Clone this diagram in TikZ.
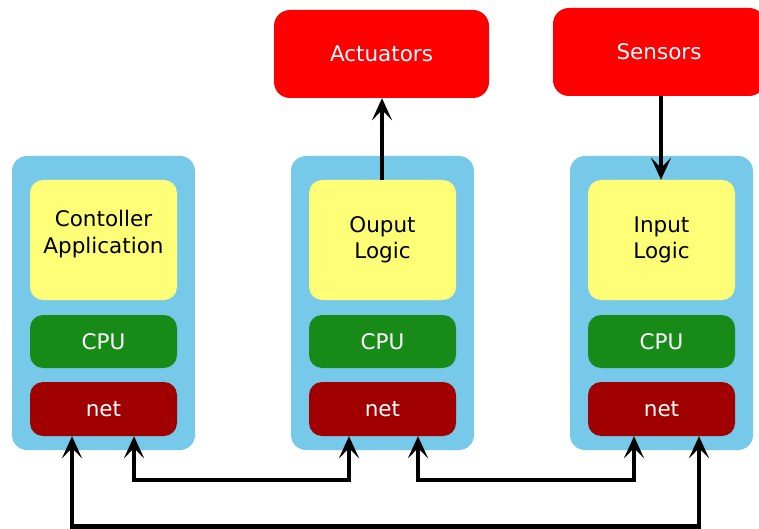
\documentclass[tikz,border=0pt]{standalone}
\usepackage{fontspec}
\setmainfont{DejaVu Sans}
\usetikzlibrary{arrows.meta}
\definecolor{cblue}{HTML}{77C9EA}
\definecolor{cyellow}{HTML}{FFFF77}
\definecolor{cgreen}{HTML}{188A18}
\definecolor{cdark}{HTML}{A00000}
\definecolor{cred}{HTML}{FF0000}
\tikzset{
  box/.style={inner sep=0pt, align=center, font=\fontsize{21.5}{26.5}\selectfont},
  hostbox/.style={box, fill=cblue, rounded corners=15pt, minimum width=183pt, minimum height=294pt},
  appbox/.style={box, fill=cyellow, rounded corners=13pt, minimum width=147pt, minimum height=120pt, text=black},
  cpubox/.style={box, fill=cgreen, rounded corners=13pt, minimum width=147pt, minimum height=53pt, text=white},
  netbox/.style={box, fill=cdark, rounded corners=13pt, minimum width=147pt, minimum height=54pt, text=white},
  devbox/.style={box, fill=cred, rounded corners=16pt, minimum height=88pt, text=white},
  link/.style={line width=4.5pt, -{Stealth[length=22pt,width=20pt,inset=10pt]}},
  blink/.style={line width=4.5pt, {Stealth[length=22pt,width=20pt,inset=10pt]}-{Stealth[length=22pt,width=20pt,inset=10pt]}}
}
\begin{document}
\begin{tikzpicture}[x=1pt,y=-1pt]
\useasboundingbox (0,0) rectangle (759,529);
% hosts
\node[hostbox] (h1) at (103.5,303) {};
\node[hostbox] (h2) at (382.5,303) {};
\node[hostbox] (h3) at (661.5,303) {};
\node[appbox] (a1) at (103.5,240) {};
\node[box] (t1) at ([yshift=6pt]a1.center) {Contoller\\Application};
\node[appbox] (a2) at (382.5,240) {Ouput\\Logic};
\node[appbox] (a3) at (661.5,240) {Input\\Logic};
\node[cpubox] (c1) at (103.5,341.5) {CPU};
\node[cpubox] (c2) at (382.5,341.5) {CPU};
\node[cpubox] (c3) at (661.5,341.5) {CPU};
\node[netbox] (n1) at (103.5,409) {net};
\node[netbox] (n2) at (382.5,409) {net};
\node[netbox] (n3) at (661.5,409) {net};
\node[devbox, minimum width=215pt] (act) at (381.5,54) {Actuators};
\node[devbox, minimum width=212pt] (sen) at (659,52) {Sensors};
% vertical links
\draw[link] (382,0 |- a2.north) -- (382,0 |- act.south);
\draw[link] (661,0 |- sen.south) -- (661,0 |- a3.north);
% bus links
\coordinate (b1) at (72,526.5);
\coordinate (b2) at (699,526.5);
\coordinate (m1) at (134,480);
\coordinate (m2) at (349,480);
\coordinate (m3) at (418,480);
\coordinate (m4) at (634,480);
\draw[blink] (72,0 |- n1.south) -- (b1) -- (b2) -- (699,0 |- n3.south);
\draw[blink] (134,0 |- n1.south) -- (m1) -- (m2) -- (349,0 |- n2.south);
\draw[blink] (418,0 |- n2.south) -- (m3) -- (m4) -- (634,0 |- n3.south);
\end{tikzpicture}
\end{document}
